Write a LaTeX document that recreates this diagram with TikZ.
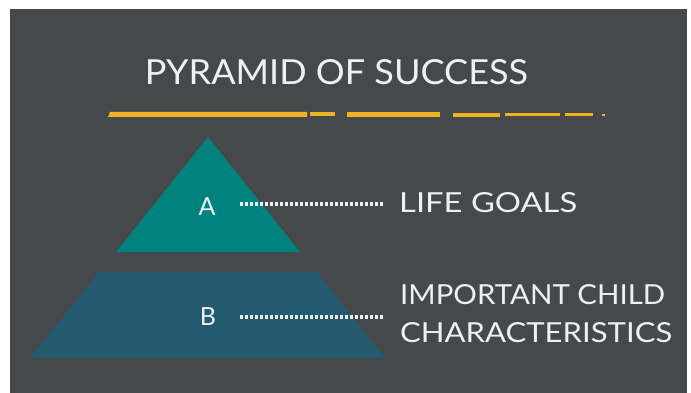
\documentclass[tikz,border=0pt]{standalone}
\usepackage{fontspec}
\setmainfont{Lato}
\definecolor{board}{HTML}{45494C}
\definecolor{tealA}{HTML}{00837F}
\definecolor{blueB}{HTML}{235A6E}
\definecolor{chalkyellow}{HTML}{F0B323}
\definecolor{chalk}{HTML}{F0F0F0}
\tikzset{
  chalktext/.style={text=chalk, inner sep=0pt, font=\fontsize{26}{30}\selectfont},
  letter/.style={text=chalk, inner sep=0pt, font=\fontsize{25}{30}\selectfont},
  dotline/.style={draw=chalk, line width=3.2pt, dash pattern=on 3pt off 2pt},
  bar/.style={fill=chalkyellow, draw=none}
}
\begin{document}
\begin{tikzpicture}[x=1pt,y=-1pt]
\useasboundingbox (0,0) rectangle (691,393);
\fill[white] (0,0) rectangle (691,393);
\fill[board] (10,9) rectangle (687,393);
% title
\node[chalktext] (title) at (336.5,72.5) {\resizebox{383pt}{25pt}{PYRAMID OF SUCCESS}};
% yellow chalk bar
\fill[bar] (110,112) -- (307,112) -- (307,117) -- (108,117) -- cycle;
\fill[bar] (310,112.5) rectangle (335,116.5);
\fill[bar] (347,112.5) rectangle (440,117);
\fill[bar] (453,113) rectangle (500,117);
\fill[bar] (505,113.5) rectangle (560,116.5);
\fill[bar] (565,113.5) rectangle (593,116.5);
\fill[bar] (602,114) rectangle (605,116);
% pyramid shapes
\fill[tealA] (208,137) -- (300,252) -- (116,252) -- cycle;
\fill[blueB] (99,272) -- (317,272) -- (385,358) -- (30,358) -- cycle;
% letters
\node[letter] (A) at (207,207) {A};
\node[letter] (B) at (208,317) {B};
% labels
\node[chalktext, anchor=west] (goals) at (399,203) {\resizebox{178pt}{20pt}{LIFE GOALS}};
\node[chalktext, anchor=west] (imp) at (400,295) {\resizebox{265pt}{20pt}{IMPORTANT CHILD}};
\node[chalktext, anchor=west] (char) at (400,333) {\resizebox{272pt}{20pt}{CHARACTERISTICS}};
% dotted connectors
\coordinate (a0) at (240,204);
\coordinate (b0) at (240,317);
\coordinate (a1) at (383,204);
\coordinate (b1) at (383,317);
\draw[dotline] (a0) -- (a1);
\draw[dotline] (b0) -- (b1);
\end{tikzpicture}
\end{document}
